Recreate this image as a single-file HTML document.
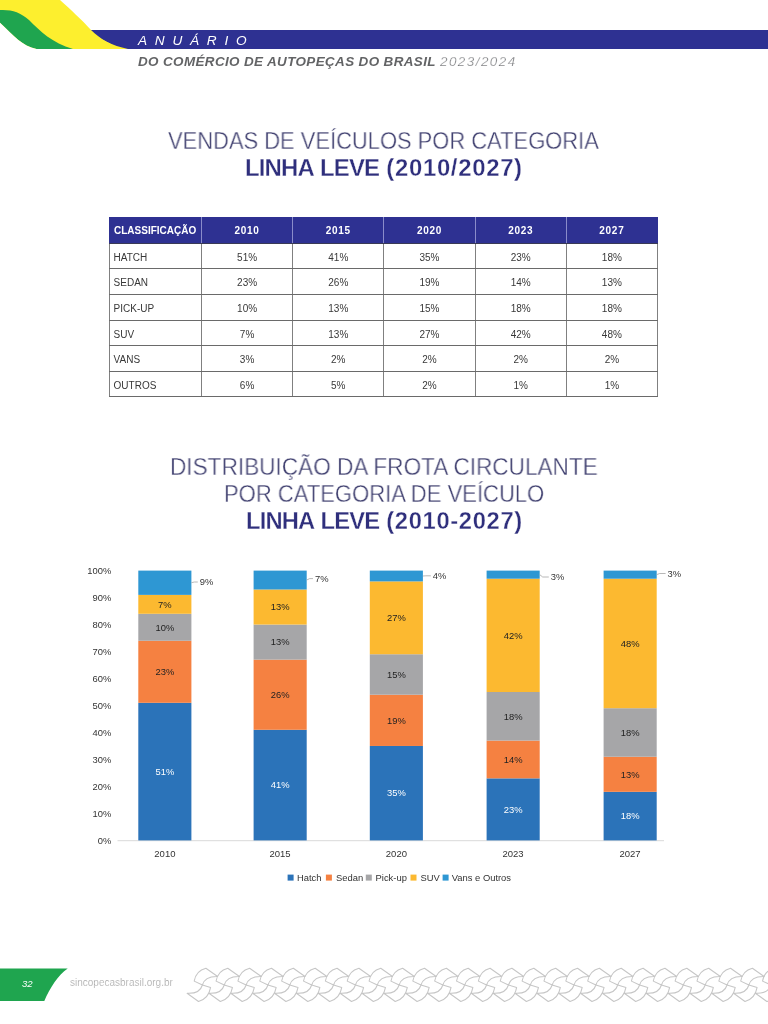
<!DOCTYPE html>
<html lang="pt-BR">
<head>
<meta charset="utf-8">
<title>Anuário do Comércio de Autopeças do Brasil 2023/2024</title>
<style>
*{box-sizing:border-box;margin:0;padding:0}
html,body{width:768px;height:1024px;background:#fff;overflow:hidden}
body{position:relative;font-family:"Liberation Sans",sans-serif;color:#333}
.abs{position:absolute;white-space:nowrap;line-height:1;will-change:transform}
#hdr{position:absolute;left:0;top:0;width:768px;height:60px}
#anu{left:137.6px;top:34.9px;font-size:12.2px;font-style:italic;color:#fff;letter-spacing:6.9px;transform:scaleX(1.12);transform-origin:0 0}
#sub{left:138.4px;top:55.7px;font-size:12px;font-style:italic;font-weight:bold;color:#636466;letter-spacing:.33px;transform:scaleX(1.12);transform-origin:0 0}
#yr{left:440px;top:55.7px;font-size:12px;font-style:italic;color:#77787b;-webkit-text-stroke:.25px #fff;letter-spacing:1.3px;transform:scaleX(1.12);transform-origin:0 0}
.t{font-size:23px;color:#434372;transform-origin:0 0;-webkit-text-stroke:.35px #fff}
.tb{font-weight:bold;color:#2f2f7c;-webkit-text-stroke:.3px #fff}
.w1{letter-spacing:-.8px;word-spacing:1.2px}
.w2{letter-spacing:.65px}
/* table */
#tbl{will-change:transform;position:absolute;left:109px;top:217px;width:549px;border-collapse:collapse;table-layout:fixed;font-size:10px;color:#383838}
#tbl td,#tbl th{height:25.65px;border:1px solid #808080;border-top-color:#6a6a6a;border-bottom-color:#6a6a6a;text-align:center;vertical-align:middle;padding:2.6px 0 0}
#tbl th{background:#2e3192;color:#fff;font-weight:bold;padding-top:0;border-color:#2e3192;border-left-color:#8a8cca;border-right-color:#8a8cca;border-bottom-color:#3a3a55;letter-spacing:.7px}
#tbl th:first-child{border-left-color:#2e3192;text-align:left;padding-left:4px;letter-spacing:0}
#tbl th:last-child{border-right-color:#2e3192}
#tbl td:first-child{text-align:left;padding-left:3.6px;letter-spacing:0}
#tbl tr>*:first-child{width:92px}
/* chart */
#chart{will-change:transform;position:absolute;left:0;top:555px;width:768px;height:340px}
#chart text{font-family:"Liberation Sans",sans-serif;font-size:9.4px;fill:#333}
/* footer */
#ftr{will-change:transform;position:absolute;left:0;top:950px;width:768px;height:74px}
#pg{left:21.6px;top:978.6px;font-size:9.6px;font-style:italic;color:#fff}
#site{left:69.6px;top:978.3px;font-size:10px;color:#a3a3a3;letter-spacing:0;-webkit-text-stroke:.2px #fff}
</style>
</head>
<body>
<svg id="hdr" viewBox="0 0 768 60">
  <path d="M84,30 L768,30 L768,49 L120,49 Z" fill="#2e3192"/>
  <path d="M0,0 L60,0 C70,9 82,20 91,30 C100,39 112,46 128,48.9 L0,49 Z" fill="#fdef2e"/>
  <path d="M0,10 C12,9.5 20,12 29,20 C40,31 52,43 73,49 L36.5,49 C22,46 14,36 0,22.8 Z" fill="#1fa54f"/>
  <path d="M0,22.8 C14,36 22,46 36.5,49 L0,49.5 Z" fill="#fff"/>
</svg>
<div class="abs" id="anu">ANUÁRIO</div>
<div class="abs" id="sub">DO COMÉRCIO DE AUTOPEÇAS DO BRASIL</div>
<div class="abs" id="yr">2023/2024</div>

<div class="abs t" id="t1" style="left:168px;top:130px;transform:scaleX(.953)">VENDAS DE VEÍCULOS POR CATEGORIA</div>
<div class="abs t tb" id="t2" style="left:245.4px;top:157.4px;transform:scaleX(1.04)"><span class="w1">LINHA LEVE </span><span class="w2">(2010/2027)</span></div>

<table id="tbl">
<tr><th>CLASSIFICAÇÃO</th><th>2010</th><th>2015</th><th>2020</th><th>2023</th><th>2027</th></tr>
<tr><td>HATCH</td><td>51%</td><td>41%</td><td>35%</td><td>23%</td><td>18%</td></tr>
<tr><td>SEDAN</td><td>23%</td><td>26%</td><td>19%</td><td>14%</td><td>13%</td></tr>
<tr><td>PICK-UP</td><td>10%</td><td>13%</td><td>15%</td><td>18%</td><td>18%</td></tr>
<tr><td>SUV</td><td>7%</td><td>13%</td><td>27%</td><td>42%</td><td>48%</td></tr>
<tr><td>VANS</td><td>3%</td><td>2%</td><td>2%</td><td>2%</td><td>2%</td></tr>
<tr><td>OUTROS</td><td>6%</td><td>5%</td><td>2%</td><td>1%</td><td>1%</td></tr>
</table>

<div class="abs t" id="t3" style="left:169.6px;top:456.1px;transform:scaleX(.9825)">DISTRIBUIÇÃO DA FROTA CIRCULANTE</div>
<div class="abs t" id="t4" style="left:224px;top:483.1px;transform:scaleX(.9575)">POR CATEGORIA DE VEÍCULO</div>
<div class="abs t tb" id="t5" style="left:245.8px;top:510.3px;transform:scaleX(1.032)"><span class="w1">LINHA LEVE </span><span class="w2">(2010-2027)</span></div>

<svg id="chart" viewBox="0 555 768 340">
<line x1="117.5" y1="840.7" x2="664" y2="840.7" stroke="#d9d9d9" stroke-width="1"/>
<text x="111.3" y="843.6" text-anchor="end">0%</text>
<text x="111.3" y="816.6" text-anchor="end">10%</text>
<text x="111.3" y="789.6" text-anchor="end">20%</text>
<text x="111.3" y="762.7" text-anchor="end">30%</text>
<text x="111.3" y="735.7" text-anchor="end">40%</text>
<text x="111.3" y="708.7" text-anchor="end">50%</text>
<text x="111.3" y="681.7" text-anchor="end">60%</text>
<text x="111.3" y="654.7" text-anchor="end">70%</text>
<text x="111.3" y="627.8" text-anchor="end">80%</text>
<text x="111.3" y="600.8" text-anchor="end">90%</text>
<text x="111.3" y="573.8" text-anchor="end">100%</text>
<rect x="138.3" y="702.80" width="53.1" height="137.60" fill="#2b73b9"/>
<text x="164.9" y="774.8" text-anchor="middle" fill="#fff" style="fill:#fff">51%</text>
<rect x="138.3" y="640.75" width="53.1" height="62.05" fill="#f58141"/>
<text x="164.9" y="675.0" text-anchor="middle" fill="#222" style="fill:#222">23%</text>
<rect x="138.3" y="613.77" width="53.1" height="26.98" fill="#a6a6a8"/>
<text x="164.9" y="630.5" text-anchor="middle" fill="#222" style="fill:#222">10%</text>
<rect x="138.3" y="594.88" width="53.1" height="18.89" fill="#fcb930"/>
<text x="164.9" y="607.5" text-anchor="middle" fill="#222" style="fill:#222">7%</text>
<rect x="138.3" y="570.60" width="53.1" height="24.28" fill="#2e97d3"/>
<path d="M191.4,582.7 L194.4,582.0 L197.8,582.0" fill="none" stroke="#a6a6a6" stroke-width=".8"/>
<text x="199.8" y="585.2">9%</text>
<text x="164.9" y="856.8" text-anchor="middle" style="font-size:9.5px">2010</text>
<rect x="253.6" y="729.78" width="53.1" height="110.62" fill="#2b73b9"/>
<text x="280.1" y="788.3" text-anchor="middle" fill="#fff" style="fill:#fff">41%</text>
<rect x="253.6" y="659.63" width="53.1" height="70.15" fill="#f58141"/>
<text x="280.1" y="697.9" text-anchor="middle" fill="#222" style="fill:#222">26%</text>
<rect x="253.6" y="624.56" width="53.1" height="35.07" fill="#a6a6a8"/>
<text x="280.1" y="645.3" text-anchor="middle" fill="#222" style="fill:#222">13%</text>
<rect x="253.6" y="589.49" width="53.1" height="35.07" fill="#fcb930"/>
<text x="280.1" y="610.2" text-anchor="middle" fill="#222" style="fill:#222">13%</text>
<rect x="253.6" y="570.60" width="53.1" height="18.89" fill="#2e97d3"/>
<path d="M306.7,580.0 L309.7,578.6 L313.0,578.6" fill="none" stroke="#a6a6a6" stroke-width=".8"/>
<text x="315.0" y="581.8">7%</text>
<text x="280.1" y="856.8" text-anchor="middle" style="font-size:9.5px">2015</text>
<rect x="369.8" y="745.97" width="53.1" height="94.43" fill="#2b73b9"/>
<text x="396.4" y="796.4" text-anchor="middle" fill="#fff" style="fill:#fff">35%</text>
<rect x="369.8" y="694.71" width="53.1" height="51.26" fill="#f58141"/>
<text x="396.4" y="723.5" text-anchor="middle" fill="#222" style="fill:#222">19%</text>
<rect x="369.8" y="654.24" width="53.1" height="40.47" fill="#a6a6a8"/>
<text x="396.4" y="677.7" text-anchor="middle" fill="#222" style="fill:#222">15%</text>
<rect x="369.8" y="581.39" width="53.1" height="72.85" fill="#fcb930"/>
<text x="396.4" y="621.0" text-anchor="middle" fill="#222" style="fill:#222">27%</text>
<rect x="369.8" y="570.60" width="53.1" height="10.79" fill="#2e97d3"/>
<path d="M422.9,576.0 L425.9,575.8 L430.8,575.8" fill="none" stroke="#a6a6a6" stroke-width=".8"/>
<text x="432.8" y="579.0">4%</text>
<text x="396.4" y="856.8" text-anchor="middle" style="font-size:9.5px">2020</text>
<rect x="486.6" y="778.35" width="53.1" height="62.05" fill="#2b73b9"/>
<text x="513.1" y="812.6" text-anchor="middle" fill="#fff" style="fill:#fff">23%</text>
<rect x="486.6" y="740.57" width="53.1" height="37.77" fill="#f58141"/>
<text x="513.1" y="762.7" text-anchor="middle" fill="#222" style="fill:#222">14%</text>
<rect x="486.6" y="692.01" width="53.1" height="48.56" fill="#a6a6a8"/>
<text x="513.1" y="719.5" text-anchor="middle" fill="#222" style="fill:#222">18%</text>
<rect x="486.6" y="578.69" width="53.1" height="113.32" fill="#fcb930"/>
<text x="513.1" y="638.6" text-anchor="middle" fill="#222" style="fill:#222">42%</text>
<rect x="486.6" y="570.60" width="53.1" height="8.09" fill="#2e97d3"/>
<path d="M539.7,574.6 L542.7,577.0 L548.8,577.0" fill="none" stroke="#a6a6a6" stroke-width=".8"/>
<text x="550.8" y="580.2">3%</text>
<text x="513.1" y="856.8" text-anchor="middle" style="font-size:9.5px">2023</text>
<rect x="603.6" y="791.84" width="53.1" height="48.56" fill="#2b73b9"/>
<text x="630.1" y="819.3" text-anchor="middle" fill="#fff" style="fill:#fff">18%</text>
<rect x="603.6" y="756.76" width="53.1" height="35.07" fill="#f58141"/>
<text x="630.1" y="777.5" text-anchor="middle" fill="#222" style="fill:#222">13%</text>
<rect x="603.6" y="708.20" width="53.1" height="48.56" fill="#a6a6a8"/>
<text x="630.1" y="735.7" text-anchor="middle" fill="#222" style="fill:#222">18%</text>
<rect x="603.6" y="578.69" width="53.1" height="129.50" fill="#fcb930"/>
<text x="630.1" y="646.6" text-anchor="middle" fill="#222" style="fill:#222">48%</text>
<rect x="603.6" y="570.60" width="53.1" height="8.09" fill="#2e97d3"/>
<path d="M656.7,574.6 L659.7,573.5 L665.6,573.5" fill="none" stroke="#a6a6a6" stroke-width=".8"/>
<text x="667.6" y="576.7">3%</text>
<text x="630.1" y="856.8" text-anchor="middle" style="font-size:9.5px">2027</text>
<rect x="287.6" y="874.6" width="6" height="6" fill="#2b73b9"/>
<text x="297.0" y="880.8">Hatch</text>
<rect x="325.9" y="874.6" width="6" height="6" fill="#f58141"/>
<text x="336.0" y="880.8">Sedan</text>
<rect x="365.8" y="874.6" width="6" height="6" fill="#a6a6a8"/>
<text x="375.6" y="880.8">Pick-up</text>
<rect x="410.5" y="874.6" width="6" height="6" fill="#fcb930"/>
<text x="420.6" y="880.8">SUV</text>
<rect x="442.6" y="874.6" width="6" height="6" fill="#2e97d3"/>
<text x="451.8" y="880.8">Vans e Outros</text>
</svg>

<svg id="ftr" viewBox="0 950 768 74">
<path d="M0,968.6 L67.7,968.6 C58,975 50,988 44.3,1001 L0,1001 Z" fill="#1fa54f"/>
<g fill="none" stroke="#c6c6c6" stroke-width="1.05" stroke-linejoin="round"><path transform="translate(205.90,968.25)" d="M0,0 C-6,1.5 -10.5,6 -11.7,12.85 L-3.5,16.75 L4.7,19.15 C3.5,26 -1,31.5 -7.4,33.25 L-18.8,25 C-10,25.5 -5,22 -3.5,16.75 C-2,11.5 3,8 11.7,8.25 Z"/><path transform="translate(227.76,968.25)" d="M0,0 C-6,1.5 -10.5,6 -11.7,12.85 L-3.5,16.75 L4.7,19.15 C3.5,26 -1,31.5 -7.4,33.25 L-18.8,25 C-10,25.5 -5,22 -3.5,16.75 C-2,11.5 3,8 11.7,8.25 Z"/><path transform="translate(249.62,968.25)" d="M0,0 C-6,1.5 -10.5,6 -11.7,12.85 L-3.5,16.75 L4.7,19.15 C3.5,26 -1,31.5 -7.4,33.25 L-18.8,25 C-10,25.5 -5,22 -3.5,16.75 C-2,11.5 3,8 11.7,8.25 Z"/><path transform="translate(271.48,968.25)" d="M0,0 C-6,1.5 -10.5,6 -11.7,12.85 L-3.5,16.75 L4.7,19.15 C3.5,26 -1,31.5 -7.4,33.25 L-18.8,25 C-10,25.5 -5,22 -3.5,16.75 C-2,11.5 3,8 11.7,8.25 Z"/><path transform="translate(293.34,968.25)" d="M0,0 C-6,1.5 -10.5,6 -11.7,12.85 L-3.5,16.75 L4.7,19.15 C3.5,26 -1,31.5 -7.4,33.25 L-18.8,25 C-10,25.5 -5,22 -3.5,16.75 C-2,11.5 3,8 11.7,8.25 Z"/><path transform="translate(315.20,968.25)" d="M0,0 C-6,1.5 -10.5,6 -11.7,12.85 L-3.5,16.75 L4.7,19.15 C3.5,26 -1,31.5 -7.4,33.25 L-18.8,25 C-10,25.5 -5,22 -3.5,16.75 C-2,11.5 3,8 11.7,8.25 Z"/><path transform="translate(337.06,968.25)" d="M0,0 C-6,1.5 -10.5,6 -11.7,12.85 L-3.5,16.75 L4.7,19.15 C3.5,26 -1,31.5 -7.4,33.25 L-18.8,25 C-10,25.5 -5,22 -3.5,16.75 C-2,11.5 3,8 11.7,8.25 Z"/><path transform="translate(358.92,968.25)" d="M0,0 C-6,1.5 -10.5,6 -11.7,12.85 L-3.5,16.75 L4.7,19.15 C3.5,26 -1,31.5 -7.4,33.25 L-18.8,25 C-10,25.5 -5,22 -3.5,16.75 C-2,11.5 3,8 11.7,8.25 Z"/><path transform="translate(380.78,968.25)" d="M0,0 C-6,1.5 -10.5,6 -11.7,12.85 L-3.5,16.75 L4.7,19.15 C3.5,26 -1,31.5 -7.4,33.25 L-18.8,25 C-10,25.5 -5,22 -3.5,16.75 C-2,11.5 3,8 11.7,8.25 Z"/><path transform="translate(402.64,968.25)" d="M0,0 C-6,1.5 -10.5,6 -11.7,12.85 L-3.5,16.75 L4.7,19.15 C3.5,26 -1,31.5 -7.4,33.25 L-18.8,25 C-10,25.5 -5,22 -3.5,16.75 C-2,11.5 3,8 11.7,8.25 Z"/><path transform="translate(424.50,968.25)" d="M0,0 C-6,1.5 -10.5,6 -11.7,12.85 L-3.5,16.75 L4.7,19.15 C3.5,26 -1,31.5 -7.4,33.25 L-18.8,25 C-10,25.5 -5,22 -3.5,16.75 C-2,11.5 3,8 11.7,8.25 Z"/><path transform="translate(446.36,968.25)" d="M0,0 C-6,1.5 -10.5,6 -11.7,12.85 L-3.5,16.75 L4.7,19.15 C3.5,26 -1,31.5 -7.4,33.25 L-18.8,25 C-10,25.5 -5,22 -3.5,16.75 C-2,11.5 3,8 11.7,8.25 Z"/><path transform="translate(468.22,968.25)" d="M0,0 C-6,1.5 -10.5,6 -11.7,12.85 L-3.5,16.75 L4.7,19.15 C3.5,26 -1,31.5 -7.4,33.25 L-18.8,25 C-10,25.5 -5,22 -3.5,16.75 C-2,11.5 3,8 11.7,8.25 Z"/><path transform="translate(490.08,968.25)" d="M0,0 C-6,1.5 -10.5,6 -11.7,12.85 L-3.5,16.75 L4.7,19.15 C3.5,26 -1,31.5 -7.4,33.25 L-18.8,25 C-10,25.5 -5,22 -3.5,16.75 C-2,11.5 3,8 11.7,8.25 Z"/><path transform="translate(511.94,968.25)" d="M0,0 C-6,1.5 -10.5,6 -11.7,12.85 L-3.5,16.75 L4.7,19.15 C3.5,26 -1,31.5 -7.4,33.25 L-18.8,25 C-10,25.5 -5,22 -3.5,16.75 C-2,11.5 3,8 11.7,8.25 Z"/><path transform="translate(533.80,968.25)" d="M0,0 C-6,1.5 -10.5,6 -11.7,12.85 L-3.5,16.75 L4.7,19.15 C3.5,26 -1,31.5 -7.4,33.25 L-18.8,25 C-10,25.5 -5,22 -3.5,16.75 C-2,11.5 3,8 11.7,8.25 Z"/><path transform="translate(555.66,968.25)" d="M0,0 C-6,1.5 -10.5,6 -11.7,12.85 L-3.5,16.75 L4.7,19.15 C3.5,26 -1,31.5 -7.4,33.25 L-18.8,25 C-10,25.5 -5,22 -3.5,16.75 C-2,11.5 3,8 11.7,8.25 Z"/><path transform="translate(577.52,968.25)" d="M0,0 C-6,1.5 -10.5,6 -11.7,12.85 L-3.5,16.75 L4.7,19.15 C3.5,26 -1,31.5 -7.4,33.25 L-18.8,25 C-10,25.5 -5,22 -3.5,16.75 C-2,11.5 3,8 11.7,8.25 Z"/><path transform="translate(599.38,968.25)" d="M0,0 C-6,1.5 -10.5,6 -11.7,12.85 L-3.5,16.75 L4.7,19.15 C3.5,26 -1,31.5 -7.4,33.25 L-18.8,25 C-10,25.5 -5,22 -3.5,16.75 C-2,11.5 3,8 11.7,8.25 Z"/><path transform="translate(621.24,968.25)" d="M0,0 C-6,1.5 -10.5,6 -11.7,12.85 L-3.5,16.75 L4.7,19.15 C3.5,26 -1,31.5 -7.4,33.25 L-18.8,25 C-10,25.5 -5,22 -3.5,16.75 C-2,11.5 3,8 11.7,8.25 Z"/><path transform="translate(643.10,968.25)" d="M0,0 C-6,1.5 -10.5,6 -11.7,12.85 L-3.5,16.75 L4.7,19.15 C3.5,26 -1,31.5 -7.4,33.25 L-18.8,25 C-10,25.5 -5,22 -3.5,16.75 C-2,11.5 3,8 11.7,8.25 Z"/><path transform="translate(664.96,968.25)" d="M0,0 C-6,1.5 -10.5,6 -11.7,12.85 L-3.5,16.75 L4.7,19.15 C3.5,26 -1,31.5 -7.4,33.25 L-18.8,25 C-10,25.5 -5,22 -3.5,16.75 C-2,11.5 3,8 11.7,8.25 Z"/><path transform="translate(686.82,968.25)" d="M0,0 C-6,1.5 -10.5,6 -11.7,12.85 L-3.5,16.75 L4.7,19.15 C3.5,26 -1,31.5 -7.4,33.25 L-18.8,25 C-10,25.5 -5,22 -3.5,16.75 C-2,11.5 3,8 11.7,8.25 Z"/><path transform="translate(708.68,968.25)" d="M0,0 C-6,1.5 -10.5,6 -11.7,12.85 L-3.5,16.75 L4.7,19.15 C3.5,26 -1,31.5 -7.4,33.25 L-18.8,25 C-10,25.5 -5,22 -3.5,16.75 C-2,11.5 3,8 11.7,8.25 Z"/><path transform="translate(730.54,968.25)" d="M0,0 C-6,1.5 -10.5,6 -11.7,12.85 L-3.5,16.75 L4.7,19.15 C3.5,26 -1,31.5 -7.4,33.25 L-18.8,25 C-10,25.5 -5,22 -3.5,16.75 C-2,11.5 3,8 11.7,8.25 Z"/><path transform="translate(752.40,968.25)" d="M0,0 C-6,1.5 -10.5,6 -11.7,12.85 L-3.5,16.75 L4.7,19.15 C3.5,26 -1,31.5 -7.4,33.25 L-18.8,25 C-10,25.5 -5,22 -3.5,16.75 C-2,11.5 3,8 11.7,8.25 Z"/><path transform="translate(774.26,968.25)" d="M0,0 C-6,1.5 -10.5,6 -11.7,12.85 L-3.5,16.75 L4.7,19.15 C3.5,26 -1,31.5 -7.4,33.25 L-18.8,25 C-10,25.5 -5,22 -3.5,16.75 C-2,11.5 3,8 11.7,8.25 Z"/></g>
</svg>
<div class="abs" id="pg">32</div>
<div class="abs" id="site">sincopecasbrasil.org.br</div>
</body>
</html>
